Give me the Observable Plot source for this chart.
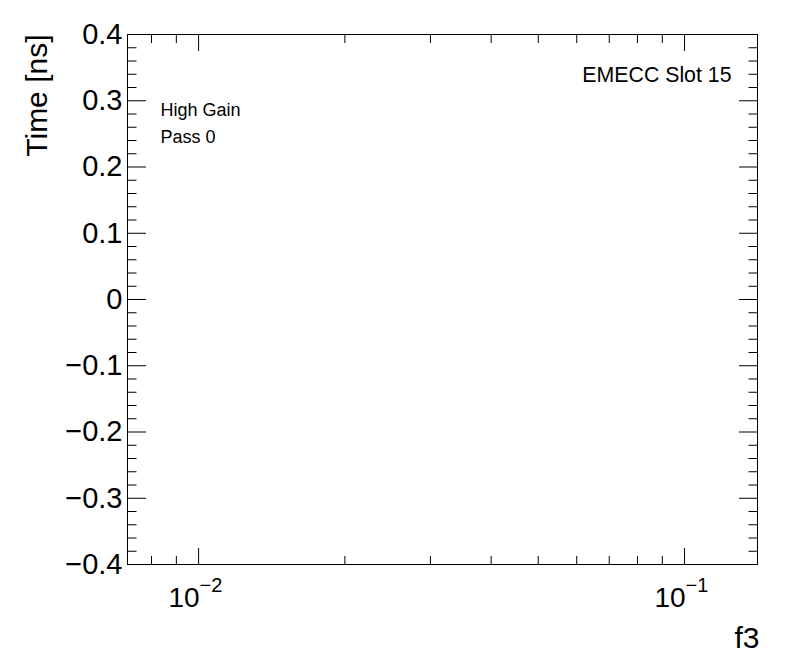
<!DOCTYPE html>
<html>
<head>
<meta charset="utf-8">
<script src="https://cdn.jsdelivr.net/npm/d3@7"></script>
<script src="https://cdn.jsdelivr.net/npm/@observablehq/plot@0.6"></script>
<style>
  html, body { margin: 0; padding: 0; background: #fff; }
  #chart svg { display: block; }
</style>
</head>
<body>
<div id="chart"></div>
<script>
// ---- data (empty histogram frame) ----
const xDomain = [0.00714, 0.1413];
const yDomain = [-0.4, 0.4];
const xMajor = [0.01, 0.1];
const xExponents = ["\u22122", "\u22121"];
const xMinor = [0.008, 0.009, 0.02, 0.03, 0.04, 0.05, 0.06, 0.07, 0.08, 0.09];
const yMajor = [-0.4, -0.3, -0.2, -0.1, 0, 0.1, 0.2, 0.3, 0.4];
const yMinor = [-0.38, -0.36, -0.34, -0.32, -0.28, -0.26, -0.24, -0.22,
                -0.18, -0.16, -0.14, -0.12, -0.08, -0.06, -0.04, -0.02,
                0.02, 0.04, 0.06, 0.08, 0.12, 0.14, 0.16, 0.18,
                0.22, 0.24, 0.26, 0.28, 0.32, 0.34, 0.36, 0.38];
const xTitle = ["f3"];
const yTitle = ["Time [ns]"];
const topRightLabel = ["EMECC Slot 15"];
const infoLine1 = ["High Gain"];
const infoLine2 = ["Pass 0"];

const font = "'Liberation Sans', Arial, Helvetica, sans-serif";
const fmtY = d => d === 0 ? "0" : (d < 0 ? "\u2212" : "") + Math.abs(d).toFixed(1);

const tickAxis = (fn, ticks, anchor, size) =>
  fn(ticks, {anchor, tickSize: -size, fill: "none", label: null, stroke: "black", strokeWidth: 1});

const chart = Plot.plot({
  width: 796,
  height: 672,
  marginLeft: 127,
  marginRight: 39,
  marginTop: 34,
  marginBottom: 108,
  style: {fontFamily: font, background: "white", color: "black"},
  x: {type: "log", domain: xDomain},
  y: {domain: yDomain},
  marks: [
    // inner ticks (ROOT style), all four sides
    tickAxis(Plot.axisY, yMinor, "left", 9.5),
    tickAxis(Plot.axisY, yMajor, "left", 19),
    tickAxis(Plot.axisY, yMinor, "right", 9.5),
    tickAxis(Plot.axisY, yMajor, "right", 19),
    tickAxis(Plot.axisX, xMinor, "bottom", 8),
    tickAxis(Plot.axisX, xMajor, "bottom", 16),
    tickAxis(Plot.axisX, xMinor, "top", 8),
    tickAxis(Plot.axisX, xMajor, "top", 16),
    // y tick labels
    Plot.axisY(yMajor, {anchor: "left", tickSize: 0, tickPadding: 5, tickFormat: fmtY,
      fontSize: 29, label: null}),
    // x tick labels: base "10" plus superscript exponent
    Plot.text(xMajor, {x: d => d, frameAnchor: "bottom", text: () => "10",
      textAnchor: "end", lineAnchor: "bottom", dx: 1, dy: 42, fontSize: 28}),
    Plot.text(xMajor, {x: d => d, frameAnchor: "bottom", text: (d, i) => xExponents[i],
      textAnchor: "start", lineAnchor: "bottom", dx: 1, dy: 27, fontSize: 20}),
    // axis titles
    Plot.text(yTitle, {text: d => d, frameAnchor: "top-left", rotate: -90,
      textAnchor: "end", lineAnchor: "bottom", dx: -81, dy: 0, fontSize: 30}),
    Plot.text(xTitle, {text: d => d, frameAnchor: "bottom-right",
      textAnchor: "end", lineAnchor: "bottom", dx: 2, dy: 83, fontSize: 30}),
    // annotations
    Plot.text(topRightLabel, {text: d => d, frameAnchor: "top-right",
      textAnchor: "end", lineAnchor: "bottom", dx: -26, dy: 47, fontSize: 21.3}),
    Plot.text(infoLine1, {text: d => d, frameAnchor: "top-left",
      textAnchor: "start", lineAnchor: "bottom", dx: 33, dy: 81, fontSize: 18}),
    Plot.text(infoLine2, {text: d => d, frameAnchor: "top-left",
      textAnchor: "start", lineAnchor: "bottom", dx: 33, dy: 108, fontSize: 18}),
    Plot.frame({stroke: "black", strokeWidth: 1})
  ]
});

document.getElementById("chart").appendChild(chart);
</script>
</body>
</html>
